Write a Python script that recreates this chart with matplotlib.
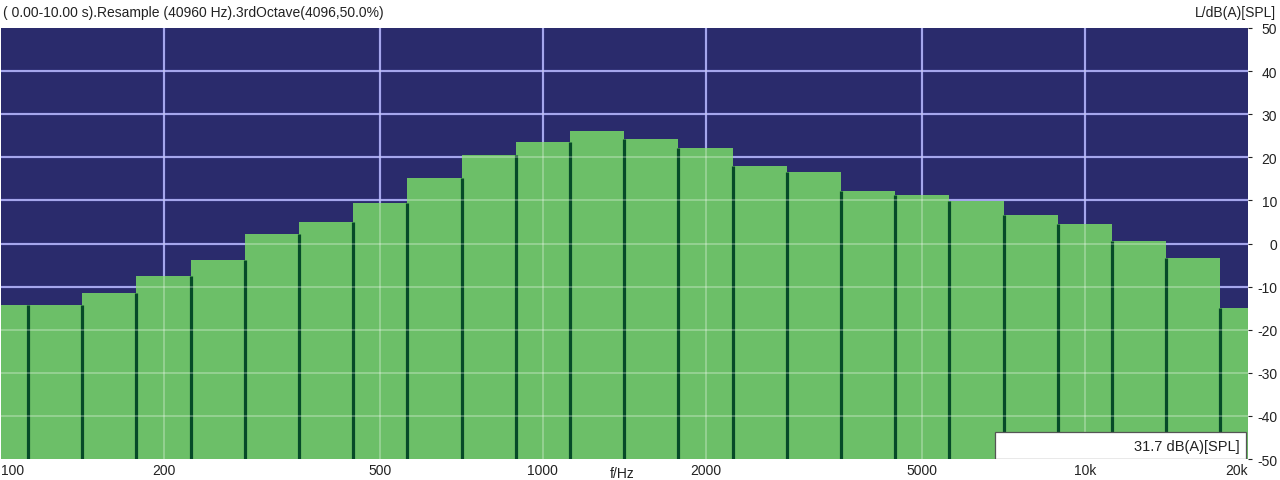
import numpy as np
import matplotlib
matplotlib.use("Agg")
import matplotlib.pyplot as plt
from matplotlib.patches import Rectangle

plt.rcParams['font.family'] = ['Liberation Sans', 'DejaVu Sans']
plt.rcParams['axes.unicode_minus'] = False

## data

band_index = np.arange(20, 44)          # third-octave bands 100 Hz .. 20 kHz
levels = [-14.3, -14.3, -11.4, -7.6, -3.9, 2.1, 4.9, 9.5, 15.2, 20.6, 23.6, 26.1,
          24.3, 22.1, 18.0, 16.6, 12.2, 11.3, 9.9, 6.7, 4.6, 0.5, -3.3, -15.0]
x_ticks = [100, 200, 500, 1000, 2000, 5000, 10000, 20000]
x_labels = ['100', '200', '500', '1000', '2000', '5000', '10k', '20k']
y_ticks = list(range(-50, 51, 10))
total_level = '31.7 dB(A)[SPL]'

title = '( 0.00-10.00 s).Resample (40960 Hz).3rdOctave(4096,50.0%)'

## colours

navy = '#2a2b6c'
green = '#6cbf68'
dark_green = '#064a28'
grid_col = '#8486e6'

## plot

fc = 10.0 ** (band_index / 10)
lo = fc * 10 ** -0.05
hi = fc * 10 ** 0.05
lv = np.array(levels)

fig = plt.figure(figsize=(12.8, 4.81), dpi=100)
ax = fig.add_axes([1 / 1280, 21 / 481, 1247 / 1280, 431 / 481])
ax.set_facecolor(navy)
ax.set_xscale('log')
ax.set_xlim(100, 20000)
ax.set_ylim(-50, 50)

# lavender grid under the bars
for yv in y_ticks[1:-1]:
    ax.axhline(yv, color=grid_col, lw=1.6, zorder=1)
for xv in x_ticks[1:-1]:
    ax.axvline(xv, color=grid_col, lw=1.6, zorder=1)

ax.bar(lo, lv + 50, width=hi - lo, bottom=-50, align='edge',
       color=green, linewidth=0, zorder=2)
ax.vlines(hi[:-1], -50, np.minimum(lv[:-1], lv[1:]), color=dark_green, lw=2.3, zorder=3)

# grid shows faintly through the bars
for yv in y_ticks[1:-1]:
    ax.axhline(yv, color='white', lw=1.4, alpha=0.28, zorder=4)
for xv in x_ticks[1:-1]:
    ax.axvline(xv, color='white', lw=1.4, alpha=0.28, zorder=4)

# total level box
ax.add_patch(Rectangle((6830, -50), 19800 - 6830, 6.2, facecolor='white',
                       edgecolor='#555555', lw=0.9, zorder=6))
ax.text(19300, -46.9, total_level, ha='right', va='center', fontsize=10.5,
        color='#222222', zorder=7)

ax.set_xticks(x_ticks)
ax.set_xticklabels(x_labels)
ax.xaxis.set_minor_locator(matplotlib.ticker.NullLocator())
ax.tick_params(axis='x', length=0, pad=3, labelsize=10, colors='#222222')
xl = ax.get_xticklabels()
xl[0].set_ha('left')
xl[-1].set_ha('right')

ax.yaxis.tick_right()
ax.set_yticks(y_ticks)
ax.tick_params(axis='y', length=3, pad=18, labelsize=10, colors='#222222')
for t in ax.get_yticklabels():
    t.set_ha('right')

for s in ax.spines.values():
    s.set_visible(False)

ax.text(0.498, -0.017, 'f/Hz', transform=ax.transAxes, ha='center', va='top',
        fontsize=10, color='#222222')
fig.text(3 / 1280, 1 - 13 / 481, title, ha='left', va='center', fontsize=10,
         color='#222222')
fig.text(1276 / 1280, 1 - 13 / 481, 'L/dB(A)[SPL]', ha='right', va='center',
         fontsize=10, color='#222222')

fig.savefig('out.png', dpi=100, facecolor='white')
